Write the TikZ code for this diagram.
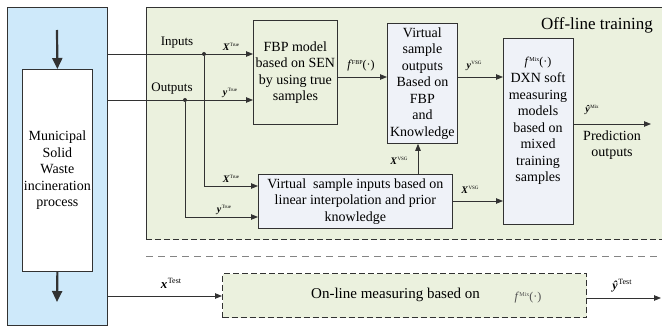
\documentclass[tikz,border=0pt]{standalone}
\usepackage{fontspec}
\setmainfont{Liberation Serif}
\usetikzlibrary{arrows.meta}

\definecolor{procblue}{RGB}{206,233,250}
\definecolor{trainbg}{RGB}{235,241,222}
\definecolor{boxfill}{RGB}{239,242,248}
\definecolor{edge}{RGB}{50,50,50}
\definecolor{dimtext}{RGB}{80,80,80}

% variable labels: bold italic symbol with a small upright superscript
\newcommand{\bv}[2]{{\fontsize{10}{10}\selectfont\bfseries\itshape #1}\kern0.5pt\raisebox{3.5pt}{\fontsize{5}{5}\selectfont #2}}
% model function labels: f with superscript and (.)
\newcommand{\fn}[1]{{\fontsize{12}{12}\selectfont\itshape f}\kern1.2pt\raisebox{4pt}{\fontsize{6}{6}\selectfont #1}{\fontsize{12}{12}\selectfont(\textperiodcentered)}}

\tikzset{
  plainbox/.style={draw=edge, line width=0.8pt, align=center, inner sep=0pt,
    font=\fontsize{14}{16.5}\selectfont},
  lightbox/.style={plainbox, fill=boxfill},
  flow/.style={draw=edge, line width=0.8pt, -{Triangle[length=7pt,width=5.5pt]}},
  bigflow/.style={draw=edge, line width=2.2pt, -{Triangle[length=11pt,width=10pt]}},
  junction/.style={circle, fill=edge, inner sep=0pt, minimum size=4pt},
  lbl/.style={inner sep=0pt, font=\fontsize{13}{15}\selectfont},
}

\begin{document}
\begin{tikzpicture}[x=1pt,y=-1pt]
\useasboundingbox (0,0) rectangle (662,326);

% off-line training area
\fill[trainbg] (146,7) rectangle (662,240);
\draw[edge, line width=0.8pt] (662,7) -- (146,7) -- (146,240);
\draw[edge, line width=1pt, dashed, dash pattern=on 6pt off 3pt] (146,240) -- (662,240);
\node[lbl, font=\fontsize{17}{19}\selectfont] (offline) at (597,25) {Off-line training};

% separator between training and on-line use
\draw[edge!60, line width=0.9pt, dash pattern=on 7pt off 5pt] (146,256) -- (662,256);

% incineration process
\node[draw=edge, line width=0.8pt, fill=procblue, minimum width=100pt, minimum height=318pt,
  anchor=north west, inner sep=0pt] (plant) at (7,7) {};
\node[plainbox, fill=white, minimum width=70pt, minimum height=202pt, anchor=north west]
  (msw) at (22,69) {Municipal\\Solid\\Waste\\incineration\\process};
\coordinate (feed) at (57,30);
\coordinate (ash) at (57,302);
\draw[bigflow] (feed) -- (msw.north);
\draw[bigflow] (msw.south) -- (ash);

% model boxes
\node[plainbox, minimum width=84pt, minimum height=104pt, anchor=north west]
  (fbp) at (253,20) {FBP model\\based on SEN\\by using true\\samples};
\node[lightbox, minimum width=70pt, minimum height=120pt, anchor=north west]
  (vso) at (387,23) {Virtual\\sample\\outputs\\Based on\\FBP\\and\\Knowledge};
\node[lightbox, minimum width=194pt, minimum height=54pt, anchor=north west]
  (vsi) at (258,174) {Virtual\ \ sample inputs based on\\linear interpolation and prior\\knowledge};
\node[lightbox, minimum width=70pt, minimum height=186pt, anchor=north west]
  (dxn) at (503,38) {};
\node[align=center, inner sep=0pt, font=\fontsize{14}{16.5}\selectfont] (dxntext) at (538,121)
  {\fn{Mix}\\[1pt]DXN soft\\measuring\\models\\based on\\mixed\\training\\samples};

% inputs and outputs of the plant
\coordinate (inJ) at (204,54);
\coordinate (outJ) at (185,100);
\draw[flow] (plant.east |- inJ) -- (fbp.west |- inJ);
\draw[flow] (plant.east |- outJ) -- (fbp.west |- outJ);
\node[junction] (inDot) at (inJ) {};
\node[junction] (outDot) at (outJ) {};
\draw[flow] (inDot) |- (vsi.west |- 0,186);
\draw[flow] (outDot) |- (vsi.west |- 0,217);
\node[lbl] (inputs) at (177,43) {Inputs};
\node[lbl] (outputs) at (172,89) {Outputs};
\node[inner sep=0pt] at (231,47) {\bv{X}{True}};
\node[inner sep=0pt] at (230,93) {\bv{y}{True}};
\node[inner sep=0pt] at (231,179) {\bv{X}{True}};
\node[inner sep=0pt] at (224,210) {\bv{y}{True}};

% connections between models
\draw[flow] (fbp.east |- 0,77) -- (vso.west |- 0,77);
\node[inner sep=0pt] at (361,66) {\fn{FBP}};
\draw[flow] (vsi.north -| 418,0) -- (vso.south -| 418,0);
\node[inner sep=0pt] at (399,161) {\bv{X}{VSG}};
\draw[flow] (vso.east |- 0,77) -- (dxn.west |- 0,77);
\node[inner sep=0pt] at (474,66) {\bv{y}{VSG}};
\draw[flow] (vsi.east |- 0,201) -- (dxn.west |- 0,201);
\node[inner sep=0pt] at (470,190) {\bv{X}{VSG}};

% prediction output
\coordinate (predEnd) at (651,124);
\draw[flow] (dxn.east |- predEnd) -- (predEnd);
\node[inner sep=0pt] at (592,110) {\bv{\^y}{Mix}};
\node[align=center, inner sep=0pt, font=\fontsize{14}{16.5}\selectfont] (pred) at (612,145) {Prediction\\outputs};

% on-line measuring
\node[draw=edge, line width=1pt, dash pattern=on 6pt off 3pt, fill=trainbg,
  minimum width=364pt, minimum height=44pt, anchor=north west, inner sep=0pt] (online) at (222,273) {};
\node[inner sep=0pt, font=\fontsize{15}{17}\selectfont, anchor=west] (onlinetext) at (311,295) {On-line measuring based on};
\node[inner sep=0pt, text=dimtext] (onlinef) at (528,298) {\fn{Mix}};
\draw[flow] (plant.east |- 0,296) -- (online.west |- 0,296);
\node[inner sep=0pt] at (171,283) {{\fontsize{13}{13}\selectfont\bfseries\itshape x}\kern0.5pt\raisebox{5pt}{\fontsize{8}{8}\selectfont Test}};
\coordinate (testEnd) at (661,298);
\draw[flow] (online.east |- testEnd) -- (testEnd);
\node[inner sep=0pt] at (622,286) {{\fontsize{12}{12}\selectfont\bfseries\itshape \^y}\kern0.5pt\raisebox{5pt}{\fontsize{8}{8}\selectfont Test}};
\end{tikzpicture}
\end{document}
